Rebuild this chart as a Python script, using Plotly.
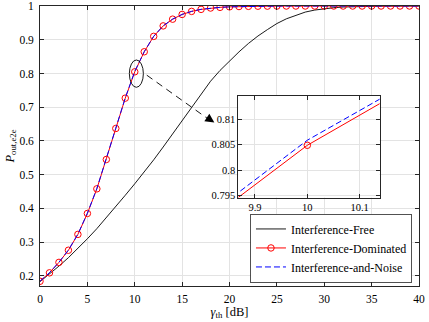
import plotly.graph_objects as go

# SNR threshold grid (dB)
gamma_db = list(range(0, 41))

# outage probability, interference-free case
p_free = [0.183, 0.205, 0.229, 0.254, 0.281, 0.310, 0.340, 0.372, 0.405, 0.439,
          0.473, 0.508, 0.544, 0.582, 0.621, 0.661, 0.701, 0.741, 0.777, 0.809,
          0.837, 0.864, 0.889, 0.911, 0.930, 0.948, 0.962, 0.973, 0.982, 0.988,
          0.992, 0.995, 0.997, 0.998, 0.9988, 0.9993, 0.9996, 0.9998, 0.9999, 0.9999,
          1.0]

# interference-dominated case
p_dom = [0.184, 0.209, 0.240, 0.276, 0.323, 0.385, 0.458, 0.545, 0.637, 0.7269,
         0.8049, 0.8643, 0.910, 0.941, 0.961, 0.975, 0.984, 0.990, 0.994, 0.996,
         0.9975, 0.9984, 0.9990, 0.9994, 0.9996, 0.9998, 0.9999, 0.9999, 1.0, 1.0,
         1.0, 1.0, 1.0, 1.0, 1.0, 1.0, 1.0, 1.0, 1.0, 1.0,
         1.0]

# interference-and-noise case
p_noise = [0.1843, 0.2094, 0.2405, 0.2766, 0.3237, 0.3858, 0.4588, 0.5458, 0.6379, 0.7276,
           0.8059, 0.8645, 0.9102, 0.9411, 0.9611, 0.9751, 0.9841, 0.9901, 0.9940, 0.9960,
           0.9975, 0.9984, 0.9990, 0.9994, 0.9996, 0.9998, 0.9999, 0.9999, 1.0, 1.0,
           1.0, 1.0, 1.0, 1.0, 1.0, 1.0, 1.0, 1.0, 1.0, 1.0,
           1.0]

x_ticks = [0, 5, 10, 15, 20, 25, 30, 35, 40]
y_ticks = [0.2, 0.3, 0.4, 0.5, 0.6, 0.7, 0.8, 0.9, 1.0]
inset_xticks = [9.9, 10, 10.1]
inset_yticks = [0.795, 0.8, 0.805, 0.81]

FONT = "Liberation Serif"
AX = "#262626"
GRID = "#e3e3e3"

fig = go.Figure()

for xa, ya, show in (("x", "y", True), ("x2", "y2", False)):
    fig.add_trace(go.Scatter(
        x=gamma_db, y=p_free, mode="lines", name="Interference-Free",
        line=dict(color="black", width=0.9), xaxis=xa, yaxis=ya, showlegend=show))
    fig.add_trace(go.Scatter(
        x=gamma_db, y=p_dom, mode="lines+markers", name="Interference-Dominated",
        line=dict(color="red", width=1),
        marker=dict(symbol="circle-open", size=6.5, color="red", line=dict(width=1)),
        xaxis=xa, yaxis=ya, showlegend=show))
    fig.add_trace(go.Scatter(
        x=gamma_db, y=p_noise, mode="lines", name="Interference-and-Noise",
        line=dict(color="blue", width=1, dash="6px,3px"),
        xaxis=xa, yaxis=ya, showlegend=show))

axis_common = dict(showline=True, linecolor=AX, linewidth=0.8, mirror="ticks",
                   ticks="inside", ticklen=4, tickcolor=AX, tickwidth=0.8,
                   showgrid=True, gridcolor=GRID, gridwidth=0.8, zeroline=False,
                   automargin=False)

fig.update_layout(
    width=429, height=322,
    margin=dict(l=40, r=10, t=6, b=36),
    paper_bgcolor="white", plot_bgcolor="white",
    font=dict(family=FONT, size=11.5, color="black"),
    xaxis=dict(range=[0, 40], tickvals=x_ticks, domain=[0, 1], ticklabelstandoff=2,
               title=dict(text="<i>γ</i><sub>th</sub> [dB]", font=dict(size=12.5), standoff=2),
               **axis_common),
    yaxis=dict(range=[0.17, 1], tickvals=y_ticks, domain=[0, 1], ticklabelstandoff=3,
               title=dict(text="<i>P</i><sub>out,e2e</sub>", font=dict(size=12.5), standoff=2),
               **axis_common),
    xaxis2=dict(range=[9.868, 10.138], tickvals=inset_xticks, domain=[0.523, 0.896],
                anchor="y2", tickfont=dict(size=10.5), **axis_common),
    yaxis2=dict(range=[0.7946, 0.8147], tickvals=inset_yticks, domain=[0.316, 0.680],
                anchor="x2", tickfont=dict(size=10.5), **axis_common),
    legend=dict(x=0.982, y=0.012, xanchor="right", yanchor="bottom",
                bgcolor="white", bordercolor=AX, borderwidth=0.8,
                font=dict(size=12), tracegroupgap=0),
    showlegend=True,
)

# zoom marker around gamma = 10 dB
fig.add_shape(type="circle", xref="x", yref="y",
              x0=9.43, x1=10.91, y0=0.759, y1=0.840,
              line=dict(color="black", width=0.9))
fig.add_shape(type="line", xref="x", yref="y",
              x0=11.27, y0=0.795, x1=17.8, y1=0.664,
              line=dict(color="black", width=0.9, dash="7px,5px"))
fig.add_annotation(x=18.4, y=0.655, xref="x", yref="y",
                   ax=-9, ay=-6, text="", showarrow=True,
                   arrowhead=2, arrowsize=1.8, arrowwidth=1, arrowcolor="black")

# page body has a default 8px margin; drop it so the figure sits at the window corner
fig.write_html("out.html", config={"displayModeBar": False},
               post_script="document.body.style.margin='0';")
